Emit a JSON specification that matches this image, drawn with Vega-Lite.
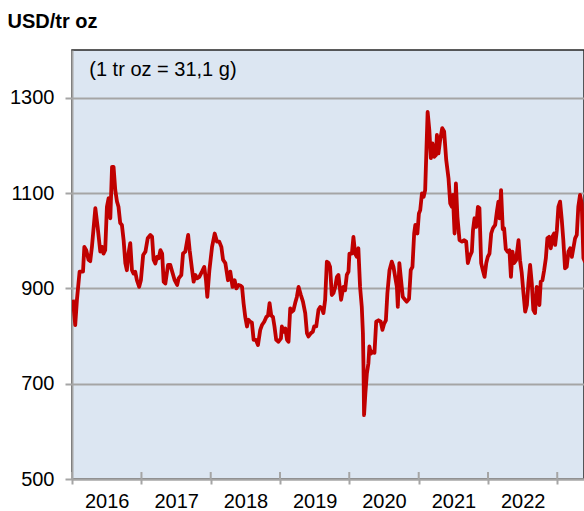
{
  "$schema": "https://vega.github.io/schema/vega-lite/v6.json",
  "width": 512,
  "height": 429,
  "autosize": {"type": "none"},
  "padding": {"left": 72, "top": 50, "right": 0, "bottom": 32},
  "background": "white",
  "config": {
    "font": "Liberation Sans",
    "view": {"fill": "#dce6f2", "stroke": "#262626", "strokeWidth": 1.5}
  },
  "datasets": {
    "prices": [
      {"date": "2016-01-06", "price": 876},
      {"date": "2016-01-18", "price": 823},
      {"date": "2016-01-27", "price": 876},
      {"date": "2016-02-10", "price": 935},
      {"date": "2016-02-28", "price": 935},
      {"date": "2016-03-06", "price": 987},
      {"date": "2016-03-16", "price": 980},
      {"date": "2016-03-28", "price": 960},
      {"date": "2016-04-06", "price": 957},
      {"date": "2016-04-15", "price": 987},
      {"date": "2016-05-03", "price": 1068},
      {"date": "2016-05-15", "price": 1029},
      {"date": "2016-05-29", "price": 977},
      {"date": "2016-06-07", "price": 987},
      {"date": "2016-06-15", "price": 973},
      {"date": "2016-06-24", "price": 980},
      {"date": "2016-07-03", "price": 1071},
      {"date": "2016-07-12", "price": 1089},
      {"date": "2016-07-21", "price": 1047},
      {"date": "2016-07-30", "price": 1155},
      {"date": "2016-08-07", "price": 1155},
      {"date": "2016-08-16", "price": 1106},
      {"date": "2016-08-25", "price": 1082},
      {"date": "2016-09-02", "price": 1071},
      {"date": "2016-09-11", "price": 1037},
      {"date": "2016-09-20", "price": 1033},
      {"date": "2016-09-29", "price": 1001},
      {"date": "2016-10-08", "price": 953},
      {"date": "2016-10-16", "price": 938},
      {"date": "2016-10-25", "price": 974},
      {"date": "2016-11-03", "price": 995},
      {"date": "2016-11-12", "price": 938},
      {"date": "2016-11-20", "price": 931},
      {"date": "2016-11-29", "price": 935},
      {"date": "2016-12-08", "price": 917},
      {"date": "2016-12-20", "price": 903},
      {"date": "2016-12-29", "price": 917},
      {"date": "2017-01-10", "price": 970},
      {"date": "2017-01-22", "price": 977},
      {"date": "2017-02-03", "price": 1005},
      {"date": "2017-02-17", "price": 1012},
      {"date": "2017-02-26", "price": 1008},
      {"date": "2017-03-06", "price": 960},
      {"date": "2017-03-15", "price": 952},
      {"date": "2017-03-24", "price": 966},
      {"date": "2017-04-02", "price": 963},
      {"date": "2017-04-11", "price": 980},
      {"date": "2017-04-20", "price": 973},
      {"date": "2017-04-28", "price": 914},
      {"date": "2017-05-07", "price": 910},
      {"date": "2017-05-21", "price": 949},
      {"date": "2017-06-02", "price": 949},
      {"date": "2017-06-14", "price": 932},
      {"date": "2017-06-25", "price": 917},
      {"date": "2017-07-08", "price": 907},
      {"date": "2017-07-16", "price": 921},
      {"date": "2017-07-30", "price": 928},
      {"date": "2017-08-08", "price": 973},
      {"date": "2017-08-20", "price": 977},
      {"date": "2017-09-04", "price": 1012},
      {"date": "2017-09-12", "price": 980},
      {"date": "2017-09-25", "price": 938},
      {"date": "2017-10-03", "price": 914},
      {"date": "2017-10-12", "price": 928},
      {"date": "2017-10-21", "price": 921},
      {"date": "2017-11-02", "price": 924},
      {"date": "2017-11-16", "price": 935},
      {"date": "2017-11-28", "price": 945},
      {"date": "2017-12-07", "price": 917},
      {"date": "2017-12-14", "price": 882},
      {"date": "2017-12-25", "price": 938},
      {"date": "2018-01-08", "price": 987},
      {"date": "2018-01-22", "price": 1015},
      {"date": "2018-02-03", "price": 998},
      {"date": "2018-02-15", "price": 998},
      {"date": "2018-02-26", "price": 987},
      {"date": "2018-03-07", "price": 960},
      {"date": "2018-03-19", "price": 953},
      {"date": "2018-04-02", "price": 917},
      {"date": "2018-04-14", "price": 935},
      {"date": "2018-04-26", "price": 903},
      {"date": "2018-05-07", "price": 917},
      {"date": "2018-05-16", "price": 900},
      {"date": "2018-05-28", "price": 907},
      {"date": "2018-06-06", "price": 906},
      {"date": "2018-06-15", "price": 903},
      {"date": "2018-06-23", "price": 869},
      {"date": "2018-07-02", "price": 840},
      {"date": "2018-07-11", "price": 820},
      {"date": "2018-07-19", "price": 834},
      {"date": "2018-07-28", "price": 830},
      {"date": "2018-08-06", "price": 828},
      {"date": "2018-08-15", "price": 792},
      {"date": "2018-08-27", "price": 792},
      {"date": "2018-09-07", "price": 781},
      {"date": "2018-09-19", "price": 813},
      {"date": "2018-09-28", "price": 823},
      {"date": "2018-10-10", "price": 830},
      {"date": "2018-10-21", "price": 840},
      {"date": "2018-10-30", "price": 843},
      {"date": "2018-11-07", "price": 869},
      {"date": "2018-11-16", "price": 843},
      {"date": "2018-11-25", "price": 840},
      {"date": "2018-12-03", "price": 820},
      {"date": "2018-12-12", "price": 792},
      {"date": "2018-12-24", "price": 788},
      {"date": "2019-01-06", "price": 795},
      {"date": "2019-01-11", "price": 820},
      {"date": "2019-01-20", "price": 809},
      {"date": "2019-01-29", "price": 816},
      {"date": "2019-02-07", "price": 792},
      {"date": "2019-02-15", "price": 788},
      {"date": "2019-02-24", "price": 858},
      {"date": "2019-03-05", "price": 851},
      {"date": "2019-03-13", "price": 854},
      {"date": "2019-03-22", "price": 869},
      {"date": "2019-03-31", "price": 882},
      {"date": "2019-04-09", "price": 903},
      {"date": "2019-04-21", "price": 886},
      {"date": "2019-05-02", "price": 872},
      {"date": "2019-05-14", "price": 848},
      {"date": "2019-05-23", "price": 806},
      {"date": "2019-05-31", "price": 799},
      {"date": "2019-06-13", "price": 806},
      {"date": "2019-06-23", "price": 809},
      {"date": "2019-06-30", "price": 820},
      {"date": "2019-07-11", "price": 820},
      {"date": "2019-07-23", "price": 855},
      {"date": "2019-08-01", "price": 861},
      {"date": "2019-08-10", "price": 858},
      {"date": "2019-08-18", "price": 848},
      {"date": "2019-08-27", "price": 876},
      {"date": "2019-09-05", "price": 956},
      {"date": "2019-09-14", "price": 953},
      {"date": "2019-09-22", "price": 945},
      {"date": "2019-10-01", "price": 886},
      {"date": "2019-10-10", "price": 890},
      {"date": "2019-10-19", "price": 903},
      {"date": "2019-10-28", "price": 924},
      {"date": "2019-11-05", "price": 928},
      {"date": "2019-11-19", "price": 876},
      {"date": "2019-12-01", "price": 903},
      {"date": "2019-12-10", "price": 896},
      {"date": "2019-12-19", "price": 928},
      {"date": "2019-12-28", "price": 935},
      {"date": "2020-01-02", "price": 973},
      {"date": "2020-01-15", "price": 973},
      {"date": "2020-01-23", "price": 1008},
      {"date": "2020-02-01", "price": 973},
      {"date": "2020-02-10", "price": 966},
      {"date": "2020-02-18", "price": 984},
      {"date": "2020-02-27", "price": 903},
      {"date": "2020-03-07", "price": 861},
      {"date": "2020-03-13", "price": 806},
      {"date": "2020-03-16", "price": 736},
      {"date": "2020-03-19", "price": 634},
      {"date": "2020-03-26", "price": 680},
      {"date": "2020-04-03", "price": 722},
      {"date": "2020-04-11", "price": 743},
      {"date": "2020-04-16", "price": 778},
      {"date": "2020-04-24", "price": 763},
      {"date": "2020-05-02", "price": 767},
      {"date": "2020-05-13", "price": 765},
      {"date": "2020-05-22", "price": 830},
      {"date": "2020-06-03", "price": 833},
      {"date": "2020-06-15", "price": 830},
      {"date": "2020-06-24", "price": 813},
      {"date": "2020-07-03", "price": 826},
      {"date": "2020-07-12", "price": 833},
      {"date": "2020-07-20", "price": 890},
      {"date": "2020-07-31", "price": 938},
      {"date": "2020-08-12", "price": 956},
      {"date": "2020-08-21", "price": 945},
      {"date": "2020-08-30", "price": 924},
      {"date": "2020-09-08", "price": 903},
      {"date": "2020-09-13", "price": 861},
      {"date": "2020-09-21", "price": 953},
      {"date": "2020-09-30", "price": 917},
      {"date": "2020-10-09", "price": 882},
      {"date": "2020-10-21", "price": 876},
      {"date": "2020-10-30", "price": 872},
      {"date": "2020-11-11", "price": 878},
      {"date": "2020-11-20", "price": 938},
      {"date": "2020-11-29", "price": 945},
      {"date": "2020-12-08", "price": 1015},
      {"date": "2020-12-14", "price": 1033},
      {"date": "2020-12-25", "price": 1015},
      {"date": "2021-01-02", "price": 1057},
      {"date": "2021-01-09", "price": 1064},
      {"date": "2021-01-18", "price": 1099},
      {"date": "2021-01-27", "price": 1092},
      {"date": "2021-02-04", "price": 1106},
      {"date": "2021-02-17", "price": 1270},
      {"date": "2021-02-26", "price": 1232},
      {"date": "2021-03-06", "price": 1173},
      {"date": "2021-03-15", "price": 1204},
      {"date": "2021-03-24", "price": 1176},
      {"date": "2021-04-02", "price": 1180},
      {"date": "2021-04-07", "price": 1222},
      {"date": "2021-04-15", "price": 1183},
      {"date": "2021-04-24", "price": 1211},
      {"date": "2021-05-05", "price": 1236},
      {"date": "2021-05-15", "price": 1229},
      {"date": "2021-05-26", "price": 1169},
      {"date": "2021-06-07", "price": 1131},
      {"date": "2021-06-16", "price": 1078},
      {"date": "2021-06-25", "price": 1071},
      {"date": "2021-06-30", "price": 1096},
      {"date": "2021-07-09", "price": 1015},
      {"date": "2021-07-16", "price": 1120},
      {"date": "2021-07-24", "price": 1050},
      {"date": "2021-08-04", "price": 1001},
      {"date": "2021-08-17", "price": 998},
      {"date": "2021-08-29", "price": 1001},
      {"date": "2021-09-08", "price": 998},
      {"date": "2021-09-17", "price": 953},
      {"date": "2021-09-26", "price": 966},
      {"date": "2021-10-08", "price": 977},
      {"date": "2021-10-14", "price": 1022},
      {"date": "2021-10-22", "price": 1047},
      {"date": "2021-10-31", "price": 1029},
      {"date": "2021-11-09", "price": 1071},
      {"date": "2021-11-17", "price": 1068},
      {"date": "2021-11-26", "price": 953},
      {"date": "2021-12-05", "price": 938},
      {"date": "2021-12-14", "price": 924},
      {"date": "2021-12-23", "price": 953},
      {"date": "2021-12-31", "price": 966},
      {"date": "2022-01-09", "price": 973},
      {"date": "2022-01-18", "price": 1015},
      {"date": "2022-01-27", "price": 1026},
      {"date": "2022-02-08", "price": 1033},
      {"date": "2022-02-17", "price": 1061},
      {"date": "2022-02-25", "price": 1082},
      {"date": "2022-03-03", "price": 1047},
      {"date": "2022-03-11", "price": 1106},
      {"date": "2022-03-20", "price": 1024},
      {"date": "2022-03-27", "price": 1026},
      {"date": "2022-04-05", "price": 982},
      {"date": "2022-04-14", "price": 977},
      {"date": "2022-04-24", "price": 980},
      {"date": "2022-05-02", "price": 924},
      {"date": "2022-05-10", "price": 977},
      {"date": "2022-05-19", "price": 953},
      {"date": "2022-05-29", "price": 959},
      {"date": "2022-06-11", "price": 1001},
      {"date": "2022-06-19", "price": 959},
      {"date": "2022-06-28", "price": 932},
      {"date": "2022-07-07", "price": 890},
      {"date": "2022-07-16", "price": 851},
      {"date": "2022-07-25", "price": 865},
      {"date": "2022-08-02", "price": 911},
      {"date": "2022-08-11", "price": 949},
      {"date": "2022-08-20", "price": 910},
      {"date": "2022-08-28", "price": 855},
      {"date": "2022-09-06", "price": 848},
      {"date": "2022-09-15", "price": 903},
      {"date": "2022-09-24", "price": 882},
      {"date": "2022-09-29", "price": 865},
      {"date": "2022-10-06", "price": 914},
      {"date": "2022-10-15", "price": 917},
      {"date": "2022-10-24", "price": 938},
      {"date": "2022-11-02", "price": 963},
      {"date": "2022-11-10", "price": 1005},
      {"date": "2022-11-19", "price": 1008},
      {"date": "2022-11-28", "price": 984},
      {"date": "2022-12-06", "price": 1008},
      {"date": "2022-12-15", "price": 1015},
      {"date": "2022-12-21", "price": 991},
      {"date": "2022-12-30", "price": 1022},
      {"date": "2023-01-07", "price": 1071},
      {"date": "2023-01-16", "price": 1082},
      {"date": "2023-01-25", "price": 1043},
      {"date": "2023-02-02", "price": 1001},
      {"date": "2023-02-11", "price": 942},
      {"date": "2023-02-20", "price": 945},
      {"date": "2023-03-01", "price": 977},
      {"date": "2023-03-10", "price": 984},
      {"date": "2023-03-19", "price": 966},
      {"date": "2023-03-27", "price": 984},
      {"date": "2023-04-05", "price": 1005},
      {"date": "2023-04-14", "price": 1012},
      {"date": "2023-04-22", "price": 1071},
      {"date": "2023-05-01", "price": 1096},
      {"date": "2023-05-10", "price": 1078},
      {"date": "2023-05-19", "price": 963},
      {"date": "2023-05-28", "price": 955}
    ],
    "years": [
      {"start": "2016-01-01"},
      {"start": "2017-01-01"},
      {"start": "2018-01-01"},
      {"start": "2019-01-01"},
      {"start": "2020-01-01"},
      {"start": "2021-01-01"},
      {"start": "2022-01-01"},
      {"start": "2023-01-01"}
    ],
    "note": [
      {"label": "(1 tr oz = 31,1 g)", "at": "2016-04-01"}
    ]
  },
  "layer": [
    {
      "data": {"name": "prices"},
      "mark": {"type": "line", "color": "#c00000", "strokeWidth": 3.8, "clip": true, "strokeJoin": "round"},
      "encoding": {
        "x": {
          "field": "date",
          "type": "temporal",
          "scale": {"domain": ["2016-01-01", "2023-05-22"], "nice": false},
          "axis": {
            "title": null,
            "values": ["2016-01-01", "2017-01-01", "2018-01-01", "2019-01-01", "2020-01-01", "2021-01-01", "2022-01-01", "2023-01-01"],
            "labelExpr": "year(datum.value) >= 2023 ? '' : timeFormat(datum.value, '%Y')",
            "labelOffset": 34.7,
            "labelPadding": 7,
            "labelFontSize": 20,
            "labelColor": "#000000",
            "labelFlush": false,
            "labelOverlap": false,
            "labelBound": false,
            "tickSize": 5,
            "tickColor": "#a5a5a5",
            "tickWidth": 2,
            "domainColor": "#a5a5a5",
            "domainWidth": 2,
            "grid": false
          }
        },
        "y": {
          "field": "price",
          "type": "quantitative",
          "scale": {"domain": [500, 1400], "nice": false, "zero": false},
          "axis": {
            "values": [500, 700, 900, 1100, 1300],
            "format": "d",
            "title": "USD/tr oz",
            "titleAngle": 0,
            "titleX": -65,
            "titleY": -23,
            "titleAlign": "left",
            "titleBaseline": "alphabetic",
            "titleFontSize": 20,
            "titleFontWeight": "bold",
            "titleColor": "#000000",
            "labelFontSize": 20,
            "labelColor": "#000000",
            "labelPadding": 11,
            "labelFlush": false,
            "labelOverlap": false,
            "tickSize": 7,
            "tickColor": "#a5a5a5",
            "tickWidth": 2,
            "domainColor": "#a5a5a5",
            "domainWidth": 2,
            "grid": true,
            "gridColor": "#a5a5a5",
            "gridWidth": 2
          }
        }
      }
    },
    {
      "data": {"name": "years"},
      "mark": {"type": "rule", "color": "#a5a5a5", "strokeWidth": 2},
      "encoding": {
        "x": {"field": "start", "type": "temporal"},
        "y": {"datum": 500},
        "y2": {"datum": 514.7}
      }
    },
    {
      "data": {"name": "note"},
      "mark": {"type": "text", "align": "left", "baseline": "alphabetic", "fontSize": 20, "color": "#000000"},
      "encoding": {
        "x": {"field": "at", "type": "temporal"},
        "y": {"datum": 1346, "type": "quantitative"},
        "text": {"field": "label"}
      }
    }
  ]
}
